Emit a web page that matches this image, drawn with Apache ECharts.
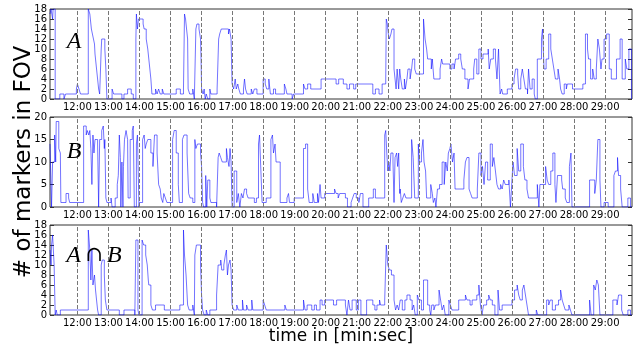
<!DOCTYPE html>
<html lang="en">
<head>
  <meta charset="UTF-8">
  <title>markers in FOV</title>
  <script src="https://cdn.jsdelivr.net/npm/echarts@6/dist/echarts.min.js"></script>
  <style>
    html, body { margin: 0; padding: 0; background: #fff; }
    #main { width: 636px; height: 349px; }
  </style>
</head>
<body>
  <div id="main"></div>
</body>
<script>
  // time in seconds, number of markers in FOV (step data)
  let minuteTicks = [720, 780, 840, 900, 960, 1020, 1080, 1140, 1200, 1260, 1320, 1380, 1440, 1500, 1560, 1620, 1680, 1740]
  let timeMin = 667
  let timeMax = 1792
  let panelMax = [18, 20, 18]
  let panelStep = [2, 5, 2]
  let panelNames = ['A', 'B', 'A∩B']

  let countsA = [
    [667, 17], [669, 18], [672, 16], [673, 18], [677, 0], [686, 1], [694, 0], [697, 1], [718, 2], [720, 3], [723, 2], [726, 1],
    [741, 18], [744, 17], [745, 16], [747, 14], [749, 13], [751, 12], [753, 11], [754, 9], [755, 8], [757, 6], [759, 4], [761, 2],
    [763, 1], [766, 10], [767, 12], [773, 10], [775, 6], [777, 0], [787, 2], [790, 1], [806, 0], [810, 1], [817, 2], [824, 1],
    [828, 0], [833, 12], [834, 17], [836, 14], [838, 16], [847, 15], [849, 14], [853, 12], [856, 10], [858, 8], [860, 6], [862, 4],
    [864, 1], [871, 2], [874, 1], [877, 2], [880, 1], [884, 2], [887, 1], [911, 2], [919, 1], [925, 2], [927, 17], [929, 16],
    [931, 14], [933, 12], [934, 2], [937, 1], [943, 2], [946, 0], [949, 14], [951, 15], [955, 14], [958, 12], [959, 8], [960, 2],
    [963, 1], [965, 2], [967, 0], [969, 1], [972, 0], [976, 2], [978, 1], [990, 2], [993, 12], [995, 13], [998, 14], [1012, 13],
    [1014, 14], [1017, 12], [1019, 3], [1022, 2], [1025, 4], [1027, 2], [1030, 3], [1032, 2], [1035, 1], [1041, 2], [1043, 4],
    [1045, 2], [1048, 1], [1056, 2], [1059, 1], [1062, 2], [1067, 1], [1079, 4], [1083, 3], [1086, 2], [1090, 4], [1093, 1],
    [1099, 2], [1103, 1], [1120, 3], [1123, 2], [1125, 1], [1135, 0], [1138, 1], [1157, 3], [1160, 2], [1165, 3], [1171, 2],
    [1191, 4], [1220, 3], [1225, 4], [1234, 3], [1241, 2], [1246, 3], [1254, 2], [1258, 3], [1291, 1], [1296, 2], [1303, 1],
    [1309, 3], [1316, 4], [1317, 16], [1319, 15], [1321, 13], [1323, 12], [1326, 13], [1328, 14], [1332, 6], [1334, 4], [1336, 2],
    [1338, 6], [1341, 2], [1343, 6], [1345, 4], [1348, 2], [1352, 4], [1354, 2], [1357, 4], [1359, 6], [1363, 4], [1366, 6],
    [1368, 8], [1372, 6], [1375, 5], [1389, 16], [1392, 12], [1395, 10], [1397, 8], [1404, 6], [1406, 8], [1409, 4], [1421, 6],
    [1424, 8], [1426, 7], [1440, 6], [1444, 7], [1448, 6], [1451, 8], [1457, 9], [1461, 8], [1464, 6], [1469, 4], [1475, 2],
    [1478, 4], [1486, 6], [1488, 8], [1492, 5], [1496, 10], [1500, 8], [1504, 9], [1514, 10], [1516, 6], [1519, 8], [1524, 10],
    [1528, 8], [1531, 4], [1534, 10], [1537, 1], [1540, 2], [1542, 1], [1551, 2], [1560, 3], [1564, 4], [1567, 6], [1571, 5],
    [1573, 2], [1577, 4], [1580, 6], [1583, 4], [1586, 2], [1590, 1], [1592, 6], [1595, 2], [1599, 4], [1603, 1], [1605, 0],
    [1609, 8], [1617, 12], [1619, 14], [1622, 6], [1626, 8], [1631, 13], [1635, 10], [1638, 8], [1641, 6], [1644, 4], [1649, 6],
    [1652, 4], [1654, 2], [1657, 1], [1661, 3], [1665, 2], [1667, 3], [1677, 2], [1697, 3], [1702, 13], [1706, 10], [1708, 8],
    [1712, 4], [1716, 6], [1719, 4], [1723, 6], [1726, 12], [1729, 10], [1732, 6], [1734, 8], [1738, 12], [1743, 13], [1748, 6],
    [1752, 4], [1762, 8], [1769, 12], [1773, 4], [1779, 8], [1782, 6], [1786, 10], [1791, 0], [1792, 0]
  ]

  let countsB = [
    [667, 14], [670, 0], [672, 10], [676, 16], [678, 10], [679, 19], [684, 13], [687, 12], [688, 1], [698, 3], [703, 2], [705, 1],
    [732, 18], [737, 16], [739, 17], [742, 16], [744, 17], [746, 13], [748, 5], [750, 16], [752, 12], [754, 15], [759, 14],
    [761, 0], [763, 15], [767, 17], [770, 18], [772, 13], [773, 15], [775, 2], [777, 1], [785, 2], [787, 0], [793, 2], [797, 5],
    [799, 7], [801, 16], [803, 11], [804, 0], [806, 10], [808, 0], [809, 9], [811, 15], [814, 17], [817, 15], [818, 2], [822, 15],
    [826, 17], [828, 18], [830, 0], [834, 14], [836, 16], [839, 0], [840, 1], [846, 15], [849, 16], [851, 13], [853, 14],
    [856, 15], [862, 12], [866, 9], [869, 16], [874, 12], [877, 5], [880, 4], [882, 2], [885, 1], [887, 3], [890, 2], [893, 1],
    [904, 15], [907, 17], [911, 12], [915, 5], [917, 1], [923, 15], [926, 16], [932, 12], [935, 3], [938, 2], [943, 1], [947, 15],
    [949, 13], [952, 14], [958, 12], [960, 9], [962, 1], [964, 0], [968, 7], [970, 0], [972, 6], [976, 2], [978, 1], [989, 0],
    [992, 11], [994, 12], [997, 11], [1000, 10], [1008, 13], [1010, 11], [1013, 9], [1015, 13], [1017, 10], [1019, 0], [1023, 8],
    [1028, 1], [1031, 3], [1034, 0], [1037, 3], [1040, 2], [1043, 4], [1047, 3], [1050, 2], [1062, 1], [1066, 2], [1070, 14],
    [1072, 16], [1074, 10], [1077, 1], [1085, 2], [1094, 15], [1097, 16], [1099, 12], [1102, 14], [1104, 10], [1112, 1],
    [1125, 2], [1128, 3], [1130, 1], [1139, 2], [1157, 13], [1161, 14], [1165, 4], [1168, 1], [1175, 3], [1178, 1],
    [1184, 3], [1186, 1], [1189, 5], [1191, 2], [1198, 3], [1217, 4], [1220, 3], [1224, 2], [1227, 3], [1238, 2], [1242, 0],
    [1249, 1], [1252, 2], [1255, 3], [1259, 2], [1264, 1], [1267, 3], [1272, 0], [1283, 2], [1292, 4], [1296, 2], [1314, 16],
    [1316, 17], [1318, 12], [1320, 8], [1322, 10], [1324, 8], [1326, 12], [1330, 10], [1332, 1], [1334, 11], [1337, 12],
    [1339, 9], [1341, 12], [1343, 3], [1344, 4], [1346, 1], [1349, 2], [1352, 3], [1355, 2], [1366, 15], [1369, 11], [1372, 2],
    [1379, 14], [1381, 10], [1385, 12], [1388, 15], [1390, 10], [1393, 8], [1395, 2], [1403, 5], [1406, 3], [1408, 1], [1411, 2],
    [1413, 0], [1416, 4], [1420, 5], [1425, 10], [1429, 5], [1432, 10], [1435, 8], [1437, 12], [1440, 13], [1442, 14], [1445, 10],
    [1448, 12], [1450, 4], [1467, 6], [1470, 10], [1473, 11], [1477, 4], [1480, 3], [1483, 2], [1493, 4], [1496, 12], [1500, 7],
    [1503, 9], [1506, 5], [1509, 10], [1513, 6], [1518, 14], [1522, 9], [1525, 11], [1528, 8], [1531, 5], [1534, 4], [1538, 5],
    [1541, 4], [1544, 6], [1547, 5], [1554, 6], [1557, 0], [1560, 6], [1562, 10], [1565, 7], [1570, 13], [1573, 8], [1577, 14],
    [1582, 9], [1585, 6], [1589, 4], [1592, 2], [1609, 5], [1612, 0], [1614, 5], [1625, 9], [1628, 6], [1631, 5], [1635, 8],
    [1639, 12], [1643, 5], [1645, 1], [1648, 7], [1656, 6], [1658, 4], [1663, 2], [1666, 1], [1671, 9], [1674, 12], [1676, 0],
    [1710, 6], [1720, 3], [1723, 6], [1726, 15], [1730, 6], [1732, 0], [1738, 1], [1746, 0], [1757, 7], [1760, 8], [1764, 11],
    [1766, 7], [1770, 4], [1773, 0], [1784, 2], [1789, 0], [1792, 0]
  ]

  let countsAB = [
    [667, 13], [668, 12], [669, 10], [670, 14], [672, 16], [675, 10], [677, 0], [679, 1], [681, 0], [687, 1], [741, 17],
    [744, 13], [746, 7], [748, 13], [750, 6], [753, 8], [755, 5], [757, 3], [759, 1], [761, 0], [766, 10], [768, 11], [772, 8],
    [774, 3], [777, 1], [801, 0], [810, 1], [831, 0], [833, 15], [837, 1], [839, 0], [845, 15], [848, 14], [852, 12], [855, 10],
    [857, 7], [858, 6], [862, 2], [865, 1], [871, 2], [888, 1], [918, 2], [925, 17], [927, 12], [930, 8], [933, 2], [936, 1],
    [943, 2], [946, 0], [947, 12], [950, 14], [958, 10], [960, 4], [962, 1], [965, 0], [969, 1], [972, 0], [976, 1], [989, 4],
    [992, 10], [997, 11], [999, 9], [1003, 10], [1006, 12], [1008, 13], [1010, 8], [1012, 10], [1015, 11], [1017, 9], [1019, 2],
    [1022, 1], [1028, 2], [1031, 1], [1039, 3], [1041, 1], [1047, 2], [1050, 1], [1057, 3], [1059, 1], [1079, 3], [1082, 2],
    [1085, 1], [1121, 2], [1124, 1], [1157, 3], [1160, 1], [1164, 2], [1173, 1], [1178, 2],
    [1182, 1], [1189, 3], [1193, 2], [1198, 3], [1215, 2], [1221, 3], [1238, 2], [1241, 0], [1244, 3], [1247, 1], [1251, 3],
    [1259, 1], [1263, 3], [1268, 0], [1279, 3], [1291, 2], [1295, 1], [1299, 2], [1304, 3], [1306, 2], [1314, 3], [1317, 14],
    [1320, 10], [1323, 9], [1327, 8], [1332, 3], [1335, 1], [1338, 2], [1341, 1], [1344, 3], [1348, 1], [1353, 3], [1357, 4],
    [1363, 3], [1367, 1], [1370, 2], [1373, 0], [1377, 4], [1380, 3], [1385, 1], [1389, 7], [1397, 2], [1401, 1], [1403, 0],
    [1405, 2], [1409, 1], [1412, 2], [1419, 5], [1422, 3], [1425, 1], [1428, 2], [1431, 0], [1438, 3], [1441, 2], [1444, 1],
    [1457, 3], [1470, 4], [1473, 3], [1479, 2], [1483, 3], [1492, 4], [1496, 6], [1499, 2], [1502, 0], [1505, 2], [1511, 3],
    [1515, 4], [1518, 3], [1522, 2], [1527, 0], [1533, 5], [1536, 1], [1541, 2], [1560, 3], [1565, 5], [1570, 6], [1573, 4],
    [1576, 3], [1580, 5], [1583, 6], [1586, 4], [1589, 2], [1592, 0], [1607, 1], [1610, 0], [1627, 3], [1631, 2], [1634, 3],
    [1638, 1], [1644, 2], [1650, 3], [1654, 5], [1657, 3], [1660, 2], [1663, 1], [1670, 2], [1673, 1], [1676, 0], [1710, 3],
    [1713, 0], [1718, 6], [1721, 5], [1724, 7], [1727, 6], [1730, 0], [1755, 3], [1763, 2], [1766, 4], [1772, 1], [1775, 0],
    [1784, 1], [1789, 0], [1792, 0]
  ]

  let panelData = [countsA, countsB, countsAB]
  let gridTops = [9, 117, 225]

  initChart()

  function fmtTime(v) {
    let m = Math.floor(v / 60)
    let s = v % 60
    return m + ':' + (s < 10 ? '0' : '') + s
  }

  function initChart() {
    let myChart = echarts.init(document.getElementById('main'), null, { renderer: 'canvas' })
    let grids = [], xAxes = [], yAxes = [], series = [], graphics = []
    let tickFont = { fontFamily: 'DejaVu Sans', fontSize: 10, color: '#000' }

    for (let i = 0; i < 3; i++) {
      grids.push({
        left: 50, right: 4, top: gridTops[i], height: 90,
        show: true, borderColor: '#333', borderWidth: 1, backgroundColor: '#fff'
      })
      xAxes.push({
        type: 'value', gridIndex: i, min: timeMin, max: timeMax,
        axisLine: { show: false },
        axisTick: { show: false },
        splitLine: { show: false },
        axisLabel: Object.assign({
          customValues: minuteTicks, formatter: fmtTime, margin: 3
        }, tickFont)
      })
      yAxes.push({
        type: 'value', gridIndex: i, min: 0, max: panelMax[i], interval: panelStep[i],
        axisLine: { show: false },
        axisTick: { show: true, inside: true, length: 4, lineStyle: { color: '#333' } },
        splitLine: { show: false },
        axisLabel: Object.assign({ margin: 3 }, tickFont)
      })
      series.push({
        type: 'line', xAxisIndex: i, yAxisIndex: i, step: 'end',
        data: panelData[i], showSymbol: false, symbol: 'none',
        lineStyle: { color: 'rgba(0,0,255,0.55)', width: 1 },
        animation: false, silent: true,
        markLine: {
          silent: true, symbol: ['none', 'none'], animation: false,
          label: { show: false },
          lineStyle: { type: [4, 2], color: '#777', width: 1 },
          data: minuteTicks.map(t => ({ xAxis: t }))
        }
      })
    }
    // ticks on the right border
    for (let i = 0; i < 3; i++) {
      yAxes.push({
        type: 'value', gridIndex: i, position: 'right', min: 0, max: panelMax[i], interval: panelStep[i],
        axisLine: { show: false },
        axisTick: { show: true, inside: true, length: 4, lineStyle: { color: '#333' } },
        splitLine: { show: false },
        axisLabel: { show: false }
      })
    }

    let labelPos = [[74, 42], [74, 152], [94, 256]]
    for (let i = 0; i < 3; i++) {
      graphics.push({
        type: 'text', x: labelPos[i][0], y: labelPos[i][1], z: 100,
        style: {
          text: panelNames[i] === 'A∩B' ? '{i|A}\u2009∩\u2009{i|B}' : '{i|' + panelNames[i] + '}',
          align: 'center', verticalAlign: 'middle',
          font: '21px "DejaVu Serif"', fill: '#000',
          rich: { i: { fontStyle: 'italic', fontFamily: 'Liberation Serif', fontSize: 24 } }
        }
      })
    }
    graphics.push({
      type: 'text', x: 24, y: 162, rotation: Math.PI / 2,
      style: { text: '# of markers in FOV', align: 'center', verticalAlign: 'middle', font: '23px "DejaVu Sans"', fill: '#000' }
    })
    graphics.push({
      type: 'text', x: 341, y: 337,
      style: { text: 'time in [min:sec]', align: 'center', verticalAlign: 'middle', font: '17px "DejaVu Sans"', fill: '#000' }
    })

    let option = {
      backgroundColor: '#fff',
      animation: false,
      grid: grids,
      xAxis: xAxes,
      yAxis: yAxes,
      series: series,
      graphic: graphics
    }
    myChart.setOption(option)
  }
</script>
</html>
